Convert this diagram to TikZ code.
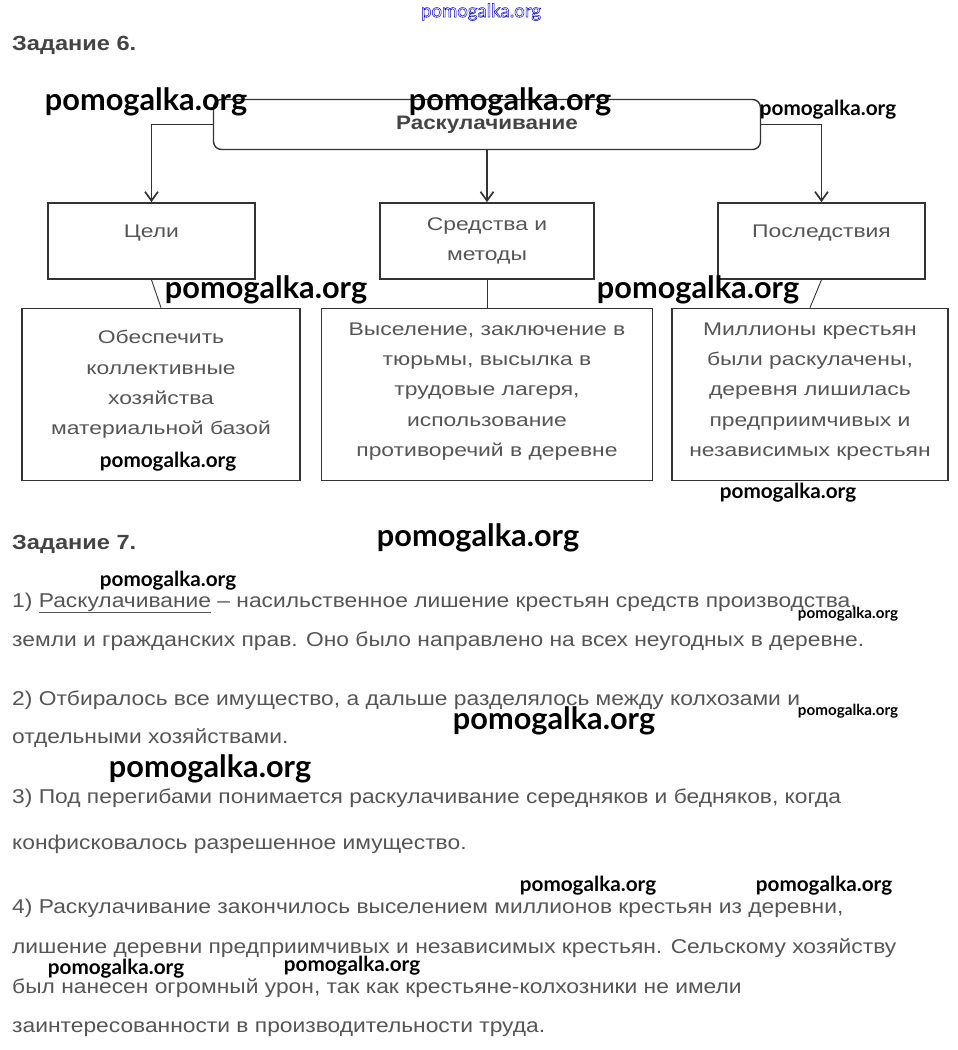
\documentclass[tikz,border=0pt]{standalone}
\usepackage{fontspec}
\setmainfont{Liberation Sans}
\newfontfamily\bodyfont{Liberation Sans}[FakeStretch=1.14]
\newfontfamily\boxfont{Liberation Sans}[FakeStretch=1.25]
\newfontfamily\headfont{Liberation Sans}[FakeStretch=1.15]
\newfontfamily\wmfont{Lato}
\usetikzlibrary{positioning,arrows.meta}

\definecolor{boxline}{HTML}{333333}
\definecolor{boxtext}{HTML}{555555}
\definecolor{bodytext}{HTML}{555555}
\definecolor{headtext}{HTML}{444444}
\newcommand{\hollow}[1]{\special{pdf:code 1 Tr 0.5 w}#1\special{pdf:code 0 Tr}}

\begin{document}
\begin{tikzpicture}[
  x=1pt, y=-1pt,
  cell/.style={rectangle, draw=boxline, line width=1.7pt, inner sep=0pt,
               text=boxtext, align=center, font=\boxfont\fontsize{18.3}{30.3}\selectfont},
  topcell/.style={cell, line width=1.4pt, rounded corners=8pt, text=headtext,
                  font=\headfont\fontsize{19.5}{22}\selectfont\bfseries},
  upper/.style={text height=14pt, text depth=22pt},
  body/.style={anchor=base west, inner sep=0pt, text=bodytext,
               font=\bodyfont\fontsize{20}{24}\selectfont},
  task/.style={anchor=base west, inner sep=0pt, text=headtext,
               font=\headfont\fontsize{20.5}{24}\selectfont\bfseries},
  wm/.style={inner sep=0pt, font=\wmfont\bfseries\fontsize{30.7}{32}\selectfont},
  wms/.style={wm, font=\wmfont\bfseries\fontsize{20.7}{22}\selectfont},
  wmt/.style={wm, font=\wmfont\bfseries\fontsize{15.2}{17}\selectfont},
  arr/.style={-{Straight Barb[length=9pt, width=13pt]}, draw=boxline, line width=1.7pt},
  lnk/.style={draw=boxline, line width=0.9pt}
]
\useasboundingbox (0,0) rectangle (958,1050);

% Task 6 scheme
\node[task] (t6) at (12,50) {Задание 6.};
\node[topcell, minimum width=547, minimum height=50] (root) at (487,124.5) {Раскулачивание};

\node[cell, upper, minimum width=207, minimum height=76] (goals) at (151.5,241) {Цели};
\node[cell, minimum width=214, minimum height=76] (means) at (487,241) {Средства и\\методы};
\node[cell, upper, minimum width=207, minimum height=76] (res) at (821.5,241) {Последствия};

\draw[arr] (root.west) -| (goals.north);
\draw[arr] (root.south) -- (means.north);
\draw[arr] (root.east) -| (res.north);

\node[cell, minimum width=278, minimum height=172, text depth=24pt] (goalsd) at (161,394.5)
  {Обеспечить\\коллективные\\хозяйства\\материальной базой};
\node[cell, minimum width=331, minimum height=172, text depth=10pt] (meansd) at (487,394.5)
  {Выселение, заключение в\\тюрьмы, высылка в\\трудовые лагеря,\\использование\\противоречий в деревне};
\node[cell, minimum width=276, minimum height=172, text depth=10pt] (resd) at (810,394.5)
  {Миллионы крестьян\\были раскулачены,\\деревня лишилась\\предприимчивых и\\независимых крестьян};

\draw[lnk] (goals.south) -- (goalsd.north);
\draw[lnk] (means.south) -- (meansd.north);
\draw[lnk] (res.south) -- (resd.north);

% Task 7 text
\node[task] (t7) at (12,549) {Задание 7.};
\node[body] (l1) at (12,607) {1) \underline{Раскулачивание} – насильственное лишение крестьян средств производства,};
\node[body] (l2) at (12,646) {земли и гражданских прав. Оно было направлено на всех неугодных в деревне.};
\node[body] (l3) at (12,705) {2) Отбиралось все имущество, а дальше разделялось между колхозами и};
\node[body] (l4) at (12,743) {отдельными хозяйствами.};
\node[body] (l5) at (12,803) {3) Под перегибами понимается раскулачивание середняков и бедняков, когда};
\node[body] (l6) at (12,849) {конфисковалось разрешенное имущество.};
\node[body] (l7) at (12,913) {4) Раскулачивание закончилось выселением миллионов крестьян из деревни,};
\node[body] (l8) at (12,953) {лишение деревни предприимчивых и независимых крестьян. Сельскому хозяйству};
\node[body] (l9) at (12,993) {был нанесен огромный урон, так как крестьяне-колхозники не имели};
\node[body] (l10) at (12,1032) {заинтересованности в производительности труда.};

% watermarks
\node[wm, text=blue!80!black, font=\wmfont\fontsize{18.6}{20}\selectfont] (wm0) at (481,12) {\hollow{pomogalka.org}};
\node[wm] (wm1) at (146,102) {pomogalka.org};
\node[wm] (wm2) at (510,102) {pomogalka.org};
\node[wms] (wm3) at (828,110) {pomogalka.org};
\node[wm] (wm4) at (266,290) {pomogalka.org};
\node[wm] (wm5) at (698,290) {pomogalka.org};
\node[wms] (wm6) at (168,462) {pomogalka.org};
\node[wms] (wm7) at (788,493) {pomogalka.org};
\node[wm] (wm8) at (478,538) {pomogalka.org};
\node[wms] (wm9) at (168,581) {pomogalka.org};
\node[wmt] (wm10) at (848,614) {pomogalka.org};
\node[wmt] (wm11) at (848,711) {pomogalka.org};
\node[wm] (wm12) at (554,721) {pomogalka.org};
\node[wm] (wm13) at (210,769) {pomogalka.org};
\node[wms] (wm14) at (588,886) {pomogalka.org};
\node[wms] (wm15) at (824,886) {pomogalka.org};
\node[wms] (wm16) at (116,969) {pomogalka.org};
\node[wms] (wm17) at (352,966) {pomogalka.org};
\end{tikzpicture}
\end{document}
